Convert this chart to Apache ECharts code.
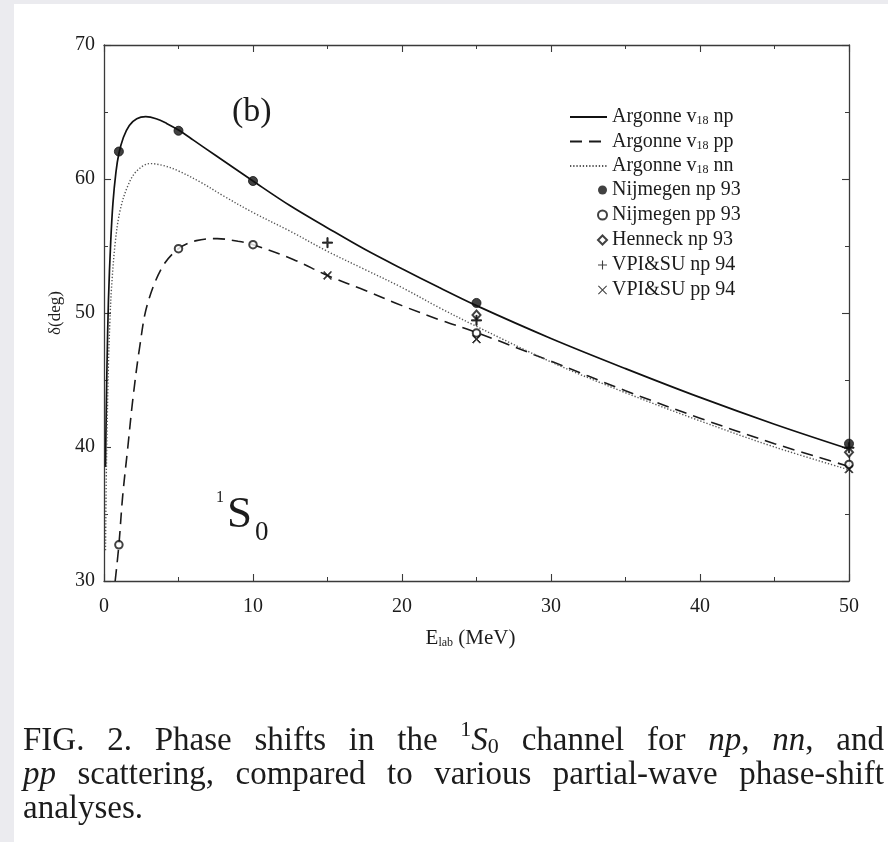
<!DOCTYPE html>
<html><head><meta charset="utf-8">
<script src="https://cdn.jsdelivr.net/npm/echarts@6/dist/echarts.min.js"></script>
<style>
html,body{margin:0;padding:0;background:#ebebef;width:888px;height:842px;overflow:hidden;}
#panel{position:absolute;left:14px;top:4px;width:874px;height:838px;background:#fff;}
#chart{position:absolute;left:0;top:0;width:888px;height:842px;}
</style></head><body>
<div id="panel"></div>
<div id="chart"></div>
<script>
// ---- data (E_lab in MeV, delta in degrees) ----
const energyRange = [0, 50];
const phaseRange = [30, 70];

const av18np = [[0.1,38.5],[0.15,42.5],[0.2,46],[0.3,51],[0.45,55.3],[0.6,58.2],[0.8,60.5],[1.0,61.9],[1.3,63.1],[1.7,64.0],[2.2,64.5],[2.8,64.65],[3.5,64.5],[4.2,64.15],[5,63.65],[6,62.9],[7.5,61.75],[10,59.85],[12.5,58.0],[15,56.35],[17.5,54.75],[20,53.3],[22.5,51.9],[25,50.55],[30,48.1],[35,45.85],[40,43.7],[45,41.7],[50,39.85]];
const av18pp = [[0.75,30],[1.0,32.7],[1.25,36.3],[1.6,40.0],[1.95,43.7],[2.4,47.5],[2.9,50.6],[3.9,53.4],[5,54.8],[6.2,55.4],[7.6,55.55],[9,55.35],[10,55.1],[12.7,54.0],[15,52.8],[17.5,51.7],[20,50.55],[22.5,49.5],[25,48.55],[30,46.4],[35,44.2],[40,42.15],[45,40.25],[50,38.55]];
const av18nn = [[0.1,32.3],[0.15,37.5],[0.2,41],[0.3,46.3],[0.4,49.5],[0.5,51.8],[0.75,55.2],[1.07,57.6],[1.6,59.5],[2.2,60.6],[3.1,61.15],[4,61.0],[5,60.6],[6.5,59.75],[8,58.75],[10,57.5],[12.5,56.1],[15,54.6],[17.5,53.25],[20,51.9],[22.5,50.4],[25,49.0],[30,46.35],[35,44.05],[40,41.95],[45,40.0],[50,38.3]];

const nijmegenNp93 = [[1,62.05],[5,63.6],[10,59.85],[25,50.75],[50,40.25]];
const nijmegenPp93 = [[1,32.7],[5,54.8],[10,55.1],[25,48.5],[50,38.7]];
const henneckNp93 = [[25,49.85],[50,39.6]];
const vpiNp94 = [[15,55.25],[25,49.45],[50,39.95]];
const vpiPp94 = [[15,52.8],[25,48.05],[50,38.35]];

const lineNames = ['Argonne v18 np','Argonne v18 pp','Argonne v18 nn'];
const pointNames = ['Nijmegen np 93','Nijmegen pp 93','Henneck np 93','VPI&SU np 94','VPI&SU pp 94'];

// ---- chart ----
const SERIF = '"Liberation Serif", "Times New Roman", serif';
const INK = '#1c1c1c';
const AX = '#3a3a3a';
const CLEAR = 'rgba(0,0,0,0)';
const PLUS = 'path://M4.4,0H5.6V4.4H10V5.6H5.6V10H4.4V5.6H0V4.4H4.4Z';
const CROSS = 'path://M0.8,0L5,4.2L9.2,0L10,0.8L5.8,5L10,9.2L9.2,10L5,5.8L0.8,10L0,9.2L4.2,5L0,0.8Z';

const chart = echarts.init(document.getElementById('chart'), null, {renderer:'canvas'});

function axisCommon(pos, showLabel){
  return {
    type:'value', position:pos,
    axisLine:{show:true, onZero:false, lineStyle:{color:AX, width:1.3}},
    axisTick:{show:true, inside:true, length:7, lineStyle:{color:AX, width:1.1}},
    minorTick:{show:true, splitNumber:2, length:4, lineStyle:{color:AX, width:1}},
    splitLine:{show:false},
    axisLabel:{show:showLabel, fontFamily:SERIF, fontSize:20, color:INK}
  };
}
const xBottom = Object.assign(axisCommon('bottom', true), {min:energyRange[0], max:energyRange[1], interval:10,
  name:'E{s|lab} (MeV)', nameLocation:'middle', nameGap:46,
  nameTextStyle:{fontFamily:SERIF, fontSize:21, color:INK, lineHeight:22, padding:[0,12,0,0],
    rich:{s:{fontFamily:SERIF, fontSize:12, lineHeight:10, verticalAlign:'bottom', color:INK}}}});
xBottom.axisLabel.margin = 16;
const xTop = Object.assign(axisCommon('top', false), {min:energyRange[0], max:energyRange[1], interval:10});
const yLeft = Object.assign(axisCommon('left', true), {min:phaseRange[0], max:phaseRange[1], interval:10,
  name:'δ(deg)', nameLocation:'middle', nameGap:40, nameRotate:90,
  nameTextStyle:{fontFamily:SERIF, fontSize:17, color:INK}});
yLeft.axisLabel.margin = 9;
const yRight = Object.assign(axisCommon('right', false), {min:phaseRange[0], max:phaseRange[1], interval:10});

function lineSeries(name, data, type, width, color){
  return {name, type:'line', data, symbol:'none', showSymbol:false, smooth:0.35,
    lineStyle:{type, width, color}, itemStyle:{color:CLEAR, borderColor:CLEAR}, z:2, silent:true, animation:false};
}
function pointSeries(name, data, symbol, size, extra){
  return Object.assign({name, type:'scatter', data, symbol, symbolSize:size,
    itemStyle:{color:'#111', borderColor:'#111'}, z:5, silent:true, animation:false}, extra||{});
}

const legendText = {fontFamily:SERIF, fontSize:20, color:INK, lineHeight:20,
  rich:{s:{fontFamily:SERIF, fontSize:12, lineHeight:8, verticalAlign:'bottom', color:INK}}};

chart.setOption({
  animation:false,
  backgroundColor:'transparent',
  grid:{left:104, top:45, width:745, height:536, containLabel:false},
  xAxis:[xBottom, xTop],
  yAxis:[yLeft, yRight],
  legend:[
    {orient:'vertical', left:569, top:107, padding:0, itemWidth:37, itemHeight:10, itemGap:4.5, selectedMode:false,
     data:lineNames, formatter:n=>n.replace('v18','v{s|18}'), textStyle:legendText},
    {orient:'vertical', left:597, top:180, padding:0, itemWidth:9, itemHeight:9, itemGap:5, selectedMode:false,
     data:pointNames, textStyle:legendText}
  ],
  graphic:[],
  series:[
    lineSeries(lineNames[0], av18np, 'solid', 1.7, '#111'),
    lineSeries(lineNames[1], av18pp, [12,7], 1.6, '#1a1a1a'),
    lineSeries(lineNames[2], av18nn, [1.3,1.9], 1.4, '#555'),
    pointSeries(pointNames[0], nijmegenNp93, 'circle', 9),
    pointSeries(pointNames[1], nijmegenPp93, 'emptyCircle', 7.5, {itemStyle:{color:'#111', borderColor:'#111', borderWidth:1.2}}),
    pointSeries(pointNames[2], henneckNp93, 'emptyDiamond', [8,9], {itemStyle:{color:'#111', borderColor:'#111', borderWidth:1.2}}),
    pointSeries(pointNames[3], vpiNp94, PLUS, 10),
    pointSeries(pointNames[4], vpiPp94, CROSS, 8)
  ]
});

// ---- annotations and caption (text) ----
const g = [];
g.push({type:'text', x:232, y:112, style:{text:'(b)', font:'34px '+SERIF, fill:INK, verticalAlign:'middle'}});
g.push({type:'text', x:216, y:498, style:{text:'1', font:'16px '+SERIF, fill:INK, verticalAlign:'middle'}});
g.push({type:'text', x:227, y:515, style:{text:'S', font:'45px '+SERIF, fill:INK, verticalAlign:'middle'}});
g.push({type:'text', x:255, y:533, style:{text:'0', font:'27px '+SERIF, fill:INK, verticalAlign:'middle'}});

const CAP = 33;
const capLines = [
  {y:741, justify:true, words:[[['FIG.','r']],[['2.','r']],[['Phase','r']],[['shifts','r']],[['in','r']],[['the','r']],[['1','sup'],['S','i'],['0','sub']],[['channel','r']],[['for','r']],[['np','i'],[',','r']],[['nn','i'],[',','r']],[['and','r']]]},
  {y:775, justify:true, words:[[['pp','i']],[['scattering,','r']],[['compared','r']],[['to','r']],[['various','r']],[['partial-wave','r']],[['phase-shift','r']]]},
  {y:809, justify:false, words:[[['analyses.','r']]]}
];
const ctx = document.createElement('canvas').getContext('2d');
function fontOf(st){
  if(st==='i') return 'italic '+CAP+'px '+SERIF;
  if(st==='sup'||st==='sub') return Math.round(CAP*0.68)+'px '+SERIF;
  return CAP+'px '+SERIF;
}
function widthOf(t, st){ ctx.font = fontOf(st); return ctx.measureText(t).width; }
const X0 = 23, X1 = 884;
capLines.forEach(line=>{
  const ws = line.words.map(w=>w.reduce((s,p)=>s+widthOf(p[0],p[1]),0));
  const total = ws.reduce((a,b)=>a+b,0);
  const gap = line.justify ? (X1-X0-total)/(ws.length-1) : CAP*0.3;
  let x = X0;
  line.words.forEach((w,i)=>{
    let px = x;
    w.forEach(p=>{
      const dy = p[1]==='sup' ? -CAP*0.32 : (p[1]==='sub' ? CAP*0.2 : 0);
      g.push({type:'text', x:px, y:line.y+dy, style:{text:p[0], font:fontOf(p[1]), fill:INK, verticalAlign:'middle'}});
      px += widthOf(p[0],p[1]);
    });
    x += ws[i] + gap;
  });
});
chart.setOption({graphic:g});
</script>
</body></html>
